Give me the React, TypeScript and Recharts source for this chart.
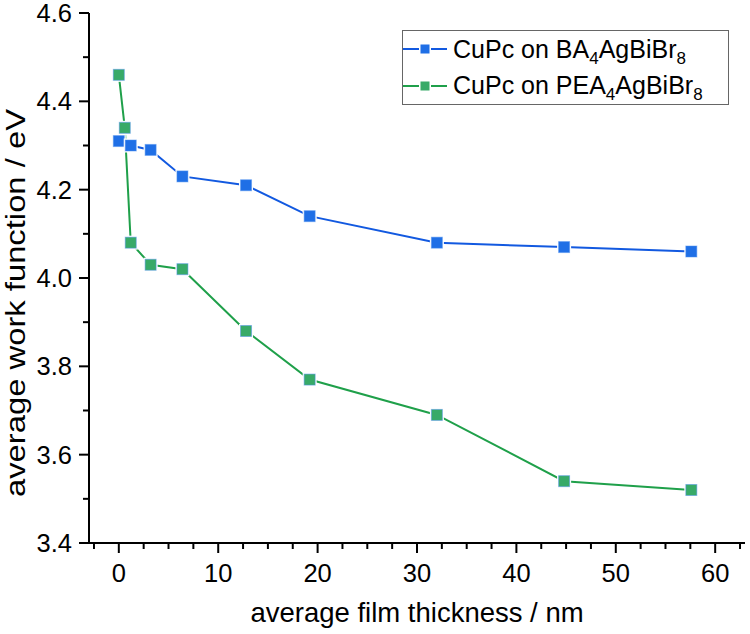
import React from "react";
import { LineChart, Line, XAxis, YAxis, Legend } from "recharts";

// film thickness (nm) and work function (eV)
const THICKNESS_BA = [0, 1.2, 3.2, 6.4, 12.8, 19.2, 32, 44.8, 57.6];
const WF_BA = [4.31, 4.3, 4.29, 4.23, 4.21, 4.14, 4.08, 4.07, 4.06];
const THICKNESS_PEA = [0, 0.6, 1.2, 3.2, 6.4, 12.8, 19.2, 32, 44.8, 57.6];
const WF_PEA = [4.46, 4.34, 4.08, 4.03, 4.02, 3.88, 3.77, 3.69, 3.54, 3.52];

const X_TICKS = [-2.5, 0, 2.5, 5, 7.5, 10, 12.5, 15, 17.5, 20, 22.5, 25, 27.5, 30, 32.5, 35, 37.5, 40, 42.5, 45, 47.5, 50, 52.5, 55, 57.5, 60, 62.5];
const X_LABELS = [0, 10, 20, 30, 40, 50, 60];
const Y_TICKS = [3.4, 3.5, 3.6, 3.7, 3.8, 3.9, 4.0, 4.1, 4.2, 4.3, 4.4, 4.5, 4.6];
const Y_LABELS = [3.4, 3.6, 3.8, 4.0, 4.2, 4.4, 4.6];

const BLUE_LINE = "#1259e0";
const BLUE_FILL = "#1f6fe6";
const GREEN_LINE = "#1fa04a";
const GREEN_FILL = "#38aa68";
const FONT = "'Liberation Sans', Arial, sans-serif";

const baData = THICKNESS_BA.map((x, i) => ({ x, y: WF_BA[i] }));
const peaData = THICKNESS_PEA.map((x, i) => ({ x, y: WF_PEA[i] }));

const isMajor = (list: number[], v: number) => list.some((m) => Math.abs(m - v) < 1e-6);

function BottomTick(props: any) {
  const { x, y, payload } = props;
  const major = isMajor(X_LABELS, payload.value);
  return (
    <g>
      <line x1={x} x2={x} y1={y} y2={y + (major ? 10 : 6)} stroke="#000" strokeWidth={2} />
      {major && (
        <text x={x} y={y + 39} textAnchor="middle" fontSize={25.5} fontFamily={FONT} fill="#000">
          {payload.value}
        </text>
      )}
    </g>
  );
}

function TopTick(props: any) {
  const { x, y, payload } = props;
  const major = isMajor(X_LABELS, payload.value);
  return <line x1={x} x2={x} y1={y} y2={y - (major ? 10 : 6)} stroke="#000" strokeWidth={2} />;
}

function LeftTick(props: any) {
  const { x, y, payload } = props;
  const major = isMajor(Y_LABELS, payload.value);
  return (
    <g>
      <line x1={x} x2={x - (major ? 10 : 6)} y1={y} y2={y} stroke="#000" strokeWidth={2} />
      {major && (
        <text x={x - 17} y={y + 9} textAnchor="end" fontSize={25.5} fontFamily={FONT} fill="#000">
          {payload.value.toFixed(1)}
        </text>
      )}
    </g>
  );
}

function RightTick(props: any) {
  const { x, y, payload } = props;
  const major = isMajor(Y_LABELS, payload.value);
  return <line x1={x} x2={x + (major ? 10 : 6)} y1={y} y2={y} stroke="#000" strokeWidth={2} />;
}

const squareDot = (fill: string) => (props: any) => {
  const { cx, cy, index } = props;
  if (cx == null || cy == null) return <g key={index} />;
  return (
    <g key={index}>
      <rect x={cx - 7} y={cy - 7} width={14} height={14} fill="#fff" />
      <rect x={cx - 5.5} y={cy - 5.5} width={11} height={11} fill={fill} stroke="#4d8ff0" strokeOpacity={0.5} strokeWidth={1} />
    </g>
  );
};

function LegendSymbol({ line, fill }: { line: string; fill: string }) {
  return (
    <svg width={44} height={20} style={{ flex: "none" }}>
      <line x1={0} x2={16} y1={10} y2={10} stroke={line} strokeWidth={2} />
      <line x1={28} x2={44} y1={10} y2={10} stroke={line} strokeWidth={2} />
      <rect x={17.5} y={5.5} width={9} height={9} fill={fill} />
    </svg>
  );
}

function LegendBox() {
  const rows = [
    { line: BLUE_LINE, fill: BLUE_FILL, pre: "CuPc on BA" },
    { line: GREEN_LINE, fill: GREEN_FILL, pre: "CuPc on PEA" },
  ];
  return (
    <div
      style={{
        width: 327,
        height: 75,
        border: "1.5px solid #666",
        background: "#fff",
        fontFamily: FONT,
        fontSize: 25,
        color: "#000",
        display: "flex",
        flexDirection: "column",
        justifyContent: "space-around",
        boxSizing: "border-box",
      }}
    >
      {rows.map((r) => (
        <div key={r.pre} style={{ display: "flex", alignItems: "center", height: 36, whiteSpace: "nowrap" }}>
          <LegendSymbol line={r.line} fill={r.fill} />
          <span style={{ marginLeft: 6, lineHeight: "25px" }}>
            {r.pre}
            <sub style={{ fontSize: 17, lineHeight: 0 }}>4</sub>
            AgBiBr
            <sub style={{ fontSize: 17, lineHeight: 0 }}>8</sub>
          </span>
        </div>
      ))}
    </div>
  );
}

export default function App() {
  return (
    <div style={{ position: "absolute", left: 0, top: 0, width: 750, height: 634, background: "#fff" }}>
      <LineChart width={750} height={634} margin={{ top: 13, right: 5, bottom: 0, left: 0 }}>
        <XAxis
          xAxisId="bottom"
          dataKey="x"
          type="number"
          domain={[-3, 63]}
          ticks={X_TICKS}
          interval={0}
          allowDataOverflow
          height={91}
          tickSize={0}
          tickMargin={0}
          tick={<BottomTick />}
          axisLine={{ stroke: "#000", strokeWidth: 2 }}
          label={{
            value: "average film thickness / nm",
            position: "insideBottom",
            offset: 12,
            fontSize: 27.5,
            fontFamily: FONT,
            fill: "#000",
          }}
        />
        <XAxis
          xAxisId="top"
          orientation="top"
          dataKey="x"
          type="number"
          domain={[-3, 63]}
          ticks={X_TICKS}
          interval={0}
          allowDataOverflow
          height={0}
          tickSize={0}
          tickMargin={0}
          tick={<TopTick />}
          axisLine={{ stroke: "#000", strokeWidth: 2 }}
        />
        <YAxis
          yAxisId="left"
          dataKey="y"
          type="number"
          domain={[3.4, 4.6]}
          ticks={Y_TICKS}
          interval={0}
          allowDataOverflow
          width={89}
          tickSize={0}
          tickMargin={0}
          tick={<LeftTick />}
          axisLine={{ stroke: "#000", strokeWidth: 2 }}
          label={{
            content: () => (
              <text
                transform="translate(25, 303) rotate(-90)"
                textAnchor="middle"
                fontSize={27.5}
                fontFamily={FONT}
                fill="#000"
                textLength={388}
                lengthAdjust="spacingAndGlyphs"
              >
                average work function / eV
              </text>
            ),
          }}
        />
        <YAxis
          yAxisId="right"
          orientation="right"
          dataKey="y"
          type="number"
          domain={[3.4, 4.6]}
          ticks={Y_TICKS}
          interval={0}
          allowDataOverflow
          width={0}
          tickSize={0}
          tickMargin={0}
          tick={<RightTick />}
          axisLine={{ stroke: "#000", strokeWidth: 2 }}
        />
        <Legend
          layout="vertical"
          align="center"
          verticalAlign="middle"
          wrapperStyle={{ top: 30, left: 402, width: 327 }}
          content={() => <LegendBox />}
        />
        <Line
          xAxisId="bottom"
          yAxisId="left"
          data={baData}
          dataKey="y"
          name="CuPc on BA4AgBiBr8"
          stroke={BLUE_LINE}
          strokeWidth={2}
          dot={squareDot(BLUE_FILL)}
          activeDot={false}
          isAnimationActive={false}
        />
        <Line
          xAxisId="bottom"
          yAxisId="left"
          data={peaData}
          dataKey="y"
          name="CuPc on PEA4AgBiBr8"
          stroke={GREEN_LINE}
          strokeWidth={2}
          dot={squareDot(GREEN_FILL)}
          activeDot={false}
          isAnimationActive={false}
        />
      </LineChart>
    </div>
  );
}
